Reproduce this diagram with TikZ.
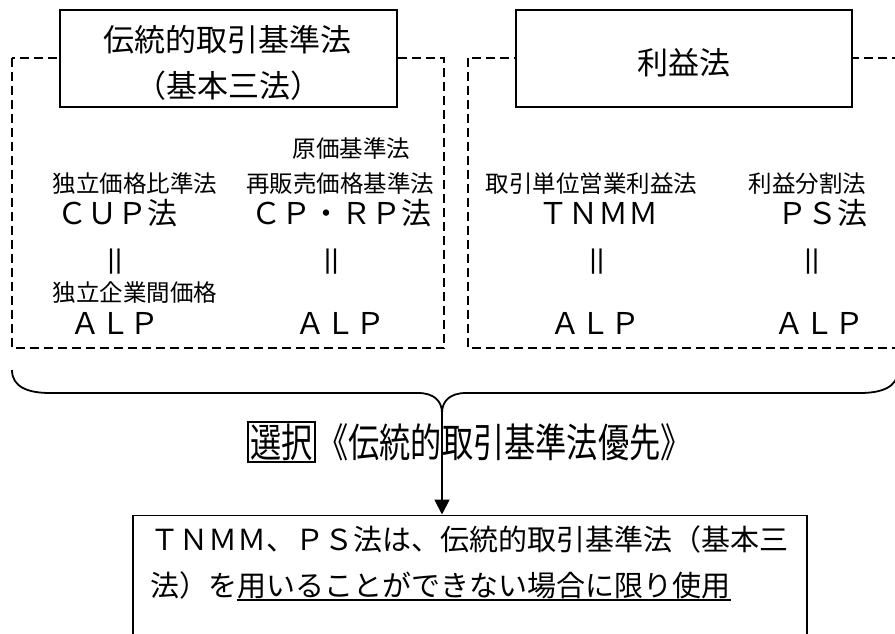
\documentclass[tikz,border=0pt]{standalone}
\usepackage{fontspec}
\setmainfont{Noto Sans CJK JP}
\newfontfamily\libsans{Liberation Sans}
\usepackage{graphicx}
\usetikzlibrary{arrows.meta}
\newcommand\dbar{{\libsans\fontsize{27}{27}\selectfont|\kern0.5pt|}}
\begin{document}
\begin{tikzpicture}[x=1pt,y=-1pt,
  lbl/.style={inner sep=0pt, font=\fontsize{23.5}{23.5}\selectfont},
  big/.style={inner sep=0pt, font=\fontsize{30}{30}\selectfont},
  body/.style={inner sep=0pt, font=\fontsize{29}{29}\selectfont},
  ttl/.style={inner sep=0pt, font=\fontsize{31}{31}\selectfont},
  eqs/.style={inner sep=0pt},
  titlebox/.style={draw, line width=2pt, fill=white, inner sep=0pt, minimum height=97pt},
  dashbox/.style={draw, dash pattern=on 9pt off 5pt, line width=2pt},
  thinline/.style={line width=1.8pt},
]
\useasboundingbox (0,0) rectangle (895,633);
\clip (0,0) rectangle (895,633);
\fill[white] (0,0) rectangle (895,633);

% dashed frames
\draw[dashbox] (12,57.5) rectangle (444,348);
\draw[dashbox] (468,57.5) rectangle (912,348);

% title boxes
\node[titlebox, minimum width=337pt] (t1) at (228.5,58.5) {};
\node[ttl] (t1a) at (227,39.5) {伝統的取引基準法};
\node[ttl] (t1b) at (228,86) {（基本三法）};
\node[titlebox, minimum width=336pt] (t2) at (684,58.5) {};
\node[ttl] (t2a) at (684,62.5) {利益法};

% method labels
\node[lbl] (b0) at (351.5,149) {原価基準法};
\node[lbl] (a1) at (135,184) {独立価格比準法};
\node[lbl] (b1) at (340,184) {再販売価格基準法};
\node[lbl] (c1) at (591.5,184) {取引単位営業利益法};
\node[lbl] (d1) at (807.5,184) {利益分割法};
\node[big] (a2) at (117.5,213) {ＣＵＰ法};
\node[big] (b2) at (341.5,213) {ＣＰ・ＲＰ法};
\node[big] (c2) at (598.5,213) {ＴＮＭＭ};
\node[big] (d2) at (822,213) {ＰＳ法};
\node[eqs] (a3) at (115,262) {\dbar};
\node[eqs] (b3) at (331.5,262) {\dbar};
\node[eqs] (c3) at (597,262) {\dbar};
\node[eqs] (d3) at (812,262) {\dbar};
\node[lbl] (a4) at (135,293) {独立企業間価格};
\node[big] (a5) at (115,323) {ＡＬＰ};
\node[big] (b5) at (340,323) {ＡＬＰ};
\node[big] (c5) at (595,323) {ＡＬＰ};
\node[big] (d5) at (819.5,323) {ＡＬＰ};

% brace
\coordinate (tip) at (442,413);
\draw[thinline] (12,370) .. controls (12,387) and (28,393) .. (50,393) -- (418,393) .. controls (434,393) and (442,401) .. (tip);
\draw[thinline] (tip) .. controls (442,401) and (450,393) .. (466,393) -- (860,393) .. controls (882,393) and (898,387) .. (898,370);

% selection text
\node[draw, line width=1.8pt, minimum width=67pt, minimum height=40pt, inner sep=0pt] (sel) at (281.5,442) {\scalebox{0.78}[1]{\fontsize{40}{40}\selectfont 選択}};
\node[inner sep=0pt, anchor=west] (pri) at (317,442) {\scalebox{0.78}[1]{\fontsize{40}{40}\selectfont 《伝統的取引基準法優先》}};

% result box
\node[draw, thinline, minimum width=674pt, minimum height=140pt, inner sep=0pt, anchor=north west] (res) at (132,514.5) {};
\draw[thinline, -{Triangle[width=15pt,length=15pt]}] (tip) -- (tip |- res.north);

\node[body, anchor=west] (l1) at (150,539) {ＴＮＭＭ、ＰＳ法は、伝統的取引基準法（基本三};
\node[body, anchor=west] (l2a) at (150,585) {法）を};
\node[body, anchor=base west] (l2b) at (l2a.base east) {用いることができない場合に限り使用};
\draw[line width=1.8pt] ([yshift=-4pt]l2b.base west) -- ([yshift=-4pt]l2b.base east);
\end{tikzpicture}
\end{document}
